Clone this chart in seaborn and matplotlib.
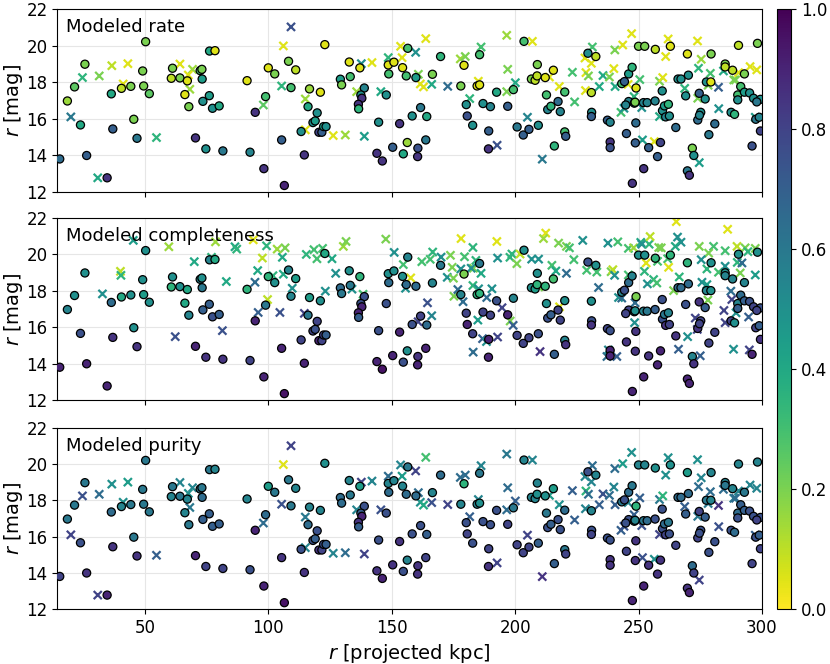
import matplotlib
matplotlib.use('Agg')
import matplotlib.pyplot as plt
import numpy as np
import pandas as pd
import seaborn as sns

# satellites (circles): projected distance, r mag, and model value in each panel
sat_r = [15.5, 18.6, 21.5, 25.7, 23.9, 26.4, 34.7, 36.4, 37.0, 40.5, 44.3, 45.5, 46.8, 49.1, 49.5, 50.3, 51.8,
         60.7, 61.2, 64.2, 66.2, 67.2, 67.8, 72.4, 73.1, 73.2, 73.5, 74.7, 76.1, 76.2, 78.4, 77.4, 80.1, 70.5,
         81.6, 91.4, 92.6, 94.7, 98.2, 98.9, 100.0, 102.6, 105.4, 106.5,
         108.2, 109.2, 111.1, 114.6, 113.3, 116.1, 116.7, 118.1, 119.0, 119.8, 120.5, 121.7, 122.4, 123.4,
         121.1, 122.9, 129.2, 129.7, 132.8, 133.2, 137.1, 138.9, 137.5, 137.9, 136.5, 136.6, 144.7, 144.0,
         146.2, 147.8, 148.6, 150.9, 148.8, 150.4, 153.2, 154.4, 154.7, 155.9, 156.5, 156.3, 158.3, 159.8,
         160.6, 160.5, 161.7, 164.2, 163.8, 166.5, 169.8, 178.0, 179.3, 180.2, 180.6, 182.8, 184.6, 185.6,
         185.6, 187.0, 189.3, 189.2, 190.0, 192.5, 197.0,
         199.3, 203.6, 200.8, 203.3, 205.6, 206.6, 208.1, 208.9, 209.0, 209.4, 212.2, 215.5, 212.7, 213.2,
         214.5, 217.4, 218.3, 220.1, 220.1, 220.5, 215.9, 229.5, 232.7, 230.9, 231.0, 230.9, 237.4, 238.5,
         238.5, 238.5, 243.2, 244.3, 246.0, 247.4, 245.1, 246.0, 244.8, 248.3, 249.0, 248.6, 248.9, 248.7,
         247.5, 250.0, 252.5, 252.1, 252.0, 253.5, 254.1, 256.7, 256.8, 257.7, 258.9, 259.6, 259.7, 260.5,
         262.1, 261.0, 262.5, 262.9, 265.1, 266.0, 267.2, 269.1, 270.2, 269.8, 271.8, 272.4, 269.8, 270.6,
         274.6, 275.2, 274.0, 274.7, 277.0, 277.5, 279.3, 279.4, 278.5, 280.9, 285.1, 285.1, 288.1, 287.5,
         288.9, 290.5, 298.2, 292.9, 291.4, 290.2, 292.9, 295.0, 296.6, 299.4, 297.9, 290.2, 297.5, 298.9,
         299.4, 296.0]
sat_mag = [13.8, 16.97, 17.74, 18.98, 15.66, 13.99, 12.77, 17.36, 15.44, 17.66, 17.77, 15.97, 14.93, 18.61, 17.79,
           20.21, 17.37, 18.21, 18.76, 18.23, 17.32, 18.07, 16.66, 18.63, 18.70, 18.17, 16.95, 14.35, 17.26,
           19.70, 19.72, 16.57, 16.70, 14.95, 14.24, 18.08, 14.17, 16.35, 13.27, 17.21, 18.78, 18.45, 14.84, 12.35,
           19.14, 17.70, 18.67, 14.02, 15.30, 16.66, 17.63, 15.79, 15.88, 16.32, 15.26, 15.26, 15.57, 15.57,
           17.45, 20.05, 18.16, 17.85, 19.10, 18.30, 18.78, 17.68, 17.30, 17.12, 16.79, 16.54, 15.81, 14.11,
           13.69, 17.30, 18.94, 19.09, 18.45, 14.44, 15.73, 18.79, 14.08, 18.34, 19.85, 14.70, 16.15, 18.25,
           14.39, 13.93, 16.61, 16.12, 14.84, 18.43, 19.40, 17.79, 18.92, 16.77, 16.15, 15.64, 17.79, 17.85,
           19.50, 16.83, 15.33, 14.35, 16.66, 17.45, 16.68,
           17.59, 20.23, 15.55, 15.11, 15.42, 18.17, 18.10, 18.34, 18.96, 15.64, 18.25, 18.65, 17.30, 16.50,
           16.68, 16.94, 16.39, 17.46, 15.28, 15.04, 14.51, 19.58, 19.40, 17.43, 16.35, 16.12, 15.92, 15.81,
           14.73, 14.42, 17.92, 18.03, 18.45, 18.81, 15.19, 16.94, 16.75, 16.85, 17.68, 16.90, 15.77, 14.68,
           12.47, 19.96, 19.96, 13.27, 16.88, 16.88, 14.42, 16.97, 19.79, 13.93, 14.70, 17.52, 16.44, 16.70,
           16.79, 16.10, 16.15, 19.96, 15.52, 18.17, 18.17, 17.25, 18.38, 19.54, 14.39, 13.99, 13.15, 12.91,
           17.39, 16.35, 15.93, 16.19, 17.08, 18.01, 18.01, 19.54, 15.13, 15.72, 18.99, 18.83, 18.65, 16.35,
           16.24, 20.01, 20.12, 18.45, 17.76, 17.30, 17.45, 17.41, 17.12, 17.06, 16.92, 17.03, 15.97, 16.08,
           15.33, 14.51]
sat_rate = [0.65, 0.15, 0.25, 0.2, 0.4, 0.7, 0.85, 0.4, 0.7, 0.1, 0.2, 0.2, 0.6, 0.2, 0.2, 0.2, 0.25,
            0.1, 0.2, 0.2, 0.05, 0.05, 0.2, 0.3, 0.2, 0.45, 0.5, 0.5, 0.45, 0.4, 0.05, 0.5, 0.4, 0.85,
            0.6, 0.05, 0.55, 0.85, 0.85, 0.3, 0.05, 0.2, 0.7, 0.9,
            0.2, 0.3, 0.1, 0.85, 0.5, 0.4, 0.15, 0.5, 0.45, 0.5, 0.8, 0.7, 0.45, 0.5,
            0.05, 0.05, 0.45, 0.2, 0.05, 0.3, 0.05, 0.55, 0.5, 0.85, 0.85, 0.35, 0.5, 0.85,
            0.85, 0.5, 0.05, 0.05, 0.3, 0.7, 0.85, 0.05, 0.4, 0.3, 0.3, 0.15, 0.5, 0.45,
            0.75, 0.85, 0.6, 0.4, 0.6, 0.2, 0.35, 0.2, 0.05, 0.5, 0.75, 0.5, 0.05, 0.05,
            0.3, 0.5, 0.7, 0.85, 0.55, 0.4, 0.7,
            0.3, 0.3, 0.6, 0.7, 0.7, 0.2, 0.1, 0.1, 0.2, 0.5, 0.05, 0.05, 0.3, 0.55,
            0.35, 0.65, 0.55, 0.3, 0.3, 0.7, 0.35, 0.5, 0.1, 0.1, 0.5, 0.7, 0.7, 0.55,
            0.85, 0.75, 0.3, 0.7, 0.45, 0.35, 0.7, 0.55, 0.55, 0.5, 0.05, 0.2, 0.65, 0.7,
            0.85, 0.2, 0.2, 0.85, 0.55, 0.55, 0.7, 0.55, 0.1, 0.7, 0.8, 0.5, 0.5, 0.45,
            0.35, 0.55, 0.5, 0.05, 0.65, 0.5, 0.5, 0.5, 0.5, 0.05, 0.2, 0.5, 0.6, 0.85,
            0.7, 0.5, 0.65, 0.55, 0.5, 0.5, 0.05, 0.2, 0.6, 0.65, 0.2, 0.1, 0.1, 0.5,
            0.35, 0.1, 0.2, 0.2, 0.3, 0.3, 0.45, 0.5, 0.5, 0.5, 0.6, 0.5, 0.6, 0.55,
            0.8, 0.75]
sat_comp = [0.9, 0.55, 0.5, 0.5, 0.75, 0.9, 0.9, 0.65, 0.85, 0.4, 0.5, 0.5, 0.85, 0.5, 0.45, 0.5, 0.5,
            0.35, 0.5, 0.5, 0.4, 0.4, 0.55, 0.55, 0.5, 0.6, 0.7, 0.85, 0.7, 0.55, 0.4, 0.75, 0.7, 0.9,
            0.85, 0.35, 0.8, 0.9, 0.9, 0.6, 0.35, 0.5, 0.9, 0.95,
            0.55, 0.55, 0.45, 0.9, 0.8, 0.6, 0.45, 0.8, 0.75, 0.8, 0.9, 0.8, 0.8, 0.7,
            0.5, 0.4, 0.65, 0.6, 0.5, 0.6, 0.35, 0.75, 0.75, 0.9, 0.9, 0.7, 0.75, 0.9,
            0.95, 0.75, 0.5, 0.5, 0.65, 0.9, 0.9, 0.5, 0.75, 0.65, 0.55, 0.5, 0.75, 0.65,
            0.85, 0.9, 0.8, 0.65, 0.9, 0.55, 0.6, 0.55, 0.2, 0.8, 0.9, 0.8, 0.35, 0.35,
            0.6, 0.8, 0.9, 0.9, 0.8, 0.75, 0.9,
            0.55, 0.5, 0.8, 0.8, 0.8, 0.5, 0.45, 0.35, 0.5, 0.75, 0.35, 0.3, 0.5, 0.75,
            0.7, 0.8, 0.8, 0.5, 0.55, 0.85, 0.7, 0.75, 0.5, 0.5, 0.75, 0.85, 0.8, 0.75,
            0.9, 0.9, 0.55, 0.75, 0.65, 0.55, 0.85, 0.8, 0.8, 0.5, 0.2, 0.5, 0.85, 0.85,
            0.9, 0.5, 0.5, 0.9, 0.55, 0.6, 0.85, 0.7, 0.35, 0.9, 0.9, 0.75, 0.75, 0.6,
            0.55, 0.85, 0.8, 0.35, 0.85, 0.65, 0.65, 0.75, 0.65, 0.35, 0.55, 0.85, 0.9, 0.9,
            0.85, 0.8, 0.85, 0.8, 0.7, 0.55, 0.5, 0.5, 0.8, 0.8, 0.5, 0.55, 0.55, 0.8,
            0.5, 0.5, 0.5, 0.55, 0.65, 0.55, 0.7, 0.75, 0.8, 0.75, 0.8, 0.7, 0.8, 0.7,
            0.85, 0.9]
sat_pur = [0.8, 0.6, 0.6, 0.6, 0.75, 0.85, 0.9, 0.65, 0.85, 0.55, 0.6, 0.6, 0.85, 0.6, 0.6, 0.6, 0.6,
           0.55, 0.6, 0.6, 0.55, 0.55, 0.6, 0.6, 0.6, 0.65, 0.7, 0.8, 0.7, 0.6, 0.55, 0.7, 0.7, 0.9,
           0.8, 0.55, 0.75, 0.9, 0.9, 0.65, 0.45, 0.6, 0.85, 0.95,
           0.6, 0.6, 0.55, 0.85, 0.75, 0.65, 0.55, 0.75, 0.7, 0.75, 0.85, 0.8, 0.75, 0.7,
           0.55, 0.5, 0.65, 0.65, 0.55, 0.6, 0.45, 0.75, 0.7, 0.9, 0.85, 0.7, 0.75, 0.85,
           0.9, 0.75, 0.55, 0.55, 0.65, 0.85, 0.85, 0.55, 0.75, 0.65, 0.6, 0.55, 0.75, 0.65,
           0.85, 0.85, 0.75, 0.7, 0.8, 0.55, 0.65, 0.55, 0.35, 0.75, 0.8, 0.75, 0.55, 0.5,
           0.6, 0.75, 0.8, 0.85, 0.75, 0.75, 0.8,
           0.6, 0.55, 0.8, 0.8, 0.8, 0.55, 0.55, 0.5, 0.55, 0.7, 0.5, 0.45, 0.6, 0.75,
           0.7, 0.75, 0.75, 0.65, 0.6, 0.8, 0.7, 0.75, 0.55, 0.55, 0.75, 0.8, 0.75, 0.75,
           0.85, 0.85, 0.6, 0.75, 0.65, 0.6, 0.8, 0.75, 0.75, 0.55, 0.35, 0.55, 0.85, 0.85,
           0.9, 0.55, 0.55, 0.9, 0.6, 0.65, 0.85, 0.75, 0.5, 0.85, 0.85, 0.75, 0.75, 0.65,
           0.6, 0.8, 0.75, 0.5, 0.8, 0.65, 0.65, 0.7, 0.65, 0.45, 0.65, 0.8, 0.85, 0.9,
           0.8, 0.75, 0.8, 0.75, 0.7, 0.6, 0.55, 0.55, 0.75, 0.75, 0.55, 0.6, 0.55, 0.75,
           0.65, 0.55, 0.55, 0.6, 0.7, 0.65, 0.7, 0.75, 0.75, 0.75, 0.8, 0.75, 0.75, 0.7,
           0.8, 0.8]

# candidates (crosses) shown in the rate and purity panels
cand_r = [20.0, 24.7, 31.5, 36.6, 43.1, 41.2, 30.9, 54.7, 64.2, 69.3, 67.6, 68.2, 98.0, 105.4, 106.1,
          109.2, 115.0, 115.0, 126.3, 131.2, 135.8, 137.7, 142.0, 138.9, 145.6, 148.6, 153.6, 154.2, 159.7,
          163.8, 160.8, 161.6, 162.9, 166.2, 172.7, 177.8, 179.8, 181.6, 185.1, 186.2, 192.7, 196.6, 197.0,
          196.6, 207.0, 200.1, 205.0, 211.0, 213.9, 217.9, 223.2, 224.1, 228.3, 230.9, 231.3, 228.7, 229.7,
          228.5, 234.1, 235.6, 238.2, 240.0, 240.4, 243.6, 240.5, 242.9, 244.1, 245.8, 247.2, 248.2, 250.5,
          251.3, 251.6, 256.4, 258.5, 259.8, 258.5, 261.0, 262.0, 268.7, 273.9, 274.3, 275.4, 274.0, 274.6,
          279.1, 278.2, 282.4, 282.5, 284.4, 288.6, 295.2, 297.9, 289.3, 290.5, 297.3]
cand_mag = [16.10, 18.25, 18.34, 18.90, 19.01, 17.90, 12.77, 14.97, 18.99, 18.70, 18.39, 17.61, 16.75, 17.79,
            19.98, 21.02, 17.08, 15.39, 15.08, 15.11, 17.48, 19.01, 19.07, 15.04, 17.48, 19.34, 19.96, 19.34,
            19.63, 20.38, 18.43, 17.90, 17.74, 17.88, 17.77, 19.27, 19.40, 17.10, 18.05, 19.92, 14.55, 20.56,
            18.70, 17.48, 20.23, 17.97, 16.08, 13.79, 18.28, 17.76, 18.54, 16.92, 19.32, 19.03, 19.92, 18.52,
            18.34, 17.54, 17.76, 18.36, 18.28, 18.74, 19.76, 20.03, 17.76, 16.35, 16.57, 17.88, 20.65, 17.21,
            18.14, 16.61, 14.84, 14.75, 18.05, 18.25, 16.12, 19.40, 20.36, 17.66, 20.25, 18.76, 19.25, 17.12,
            13.60, 18.48, 17.83, 17.72, 16.55, 18.61, 18.12, 18.85, 18.67, 18.12, 18.52, 16.08]
cand_rate = [0.6, 0.35, 0.2, 0.1, 0.05, 0.05, 0.4, 0.35, 0.05, 0.15, 0.05, 0.15, 0.25, 0.35, 0.05,
             0.75, 0.15, 0.05, 0.05, 0.15, 0.15, 0.5, 0.05, 0.45, 0.4, 0.35, 0.05, 0.05, 0.5,
             0.05, 0.2, 0.05, 0.05, 0.4, 0.65, 0.15, 0.2, 0.35, 0.05, 0.3, 0.75, 0.15, 0.2,
             0.2, 0.05, 0.4, 0.55, 0.6, 0.05, 0.05, 0.3, 0.3, 0.05, 0.05, 0.3, 0.05, 0.2,
             0.05, 0.4, 0.4, 0.2, 0.05, 0.2, 0.05, 0.4, 0.3, 0.5, 0.05, 0.05, 0.35, 0.3,
             0.5, 0.45, 0.05, 0.2, 0.05, 0.4, 0.05, 0.05, 0.35, 0.05, 0.35, 0.15, 0.2, 0.45,
             0.3, 0.2, 0.7, 0.5, 0.4, 0.2, 0.05, 0.05, 0.2, 0.05, 0.45]
cand_pur = [0.8, 0.75, 0.65, 0.5, 0.45, 0.5, 0.8, 0.7, 0.55, 0.55, 0.5, 0.6, 0.65, 0.75, 0.05,
            0.8, 0.6, 0.55, 0.55, 0.65, 0.55, 0.8, 0.55, 0.8, 0.75, 0.65, 0.55, 0.45, 0.8,
            0.3, 0.65, 0.5, 0.4, 0.75, 0.8, 0.65, 0.65, 0.7, 0.55, 0.55, 0.8, 0.6, 0.65,
            0.65, 0.55, 0.7, 0.8, 0.85, 0.45, 0.5, 0.7, 0.7, 0.55, 0.55, 0.65, 0.35, 0.65,
            0.55, 0.7, 0.75, 0.65, 0.55, 0.65, 0.45, 0.7, 0.7, 0.75, 0.55, 0.5, 0.7, 0.7,
            0.75, 0.75, 0.5, 0.6, 0.35, 0.8, 0.5, 0.5, 0.7, 0.5, 0.65, 0.55, 0.6, 0.8,
            0.65, 0.6, 0.85, 0.75, 0.65, 0.6, 0.55, 0.55, 0.65, 0.55, 0.7]

# candidates (crosses) shown in the completeness panel
comp_r = [45.3, 59.7, 78.6, 77.0, 86.5, 87.2, 93.9, 99.3, 103.6, 106.8, 97.6, 105.7, 70.0, 40.1, 40.3,
          32.8, 83.0, 95.7, 94.6, 101.9, 106.1, 109.7, 99.7, 95.9, 104.7, 81.4, 62.3,
          114.6, 115.4, 118.5, 119.7, 122.0, 125.8, 127.3, 123.1, 130.4, 131.5, 133.9, 138.4, 147.6, 151.0,
          154.7, 157.7, 155.6, 162.2, 165.6, 166.6, 170.0, 172.5, 173.8, 174.5, 175.0, 175.2, 176.8, 178.9,
          178.1, 178.0, 179.5, 182.9, 184.1, 183.1, 182.2, 186.2, 182.9, 185.2, 188.5, 190.6, 184.9, 186.8,
          188.4, 192.9, 183.0, 194.7, 198.0, 199.2, 192.6, 192.9, 197.9, 198.7, 200.7, 202.0, 164.5, 166.2,
          160.7,
          212.4, 211.5, 217.6, 220.8, 222.0, 227.4, 237.6, 241.6, 245.9, 248.0, 250.9, 251.3, 254.3, 254.7,
          258.2, 259.2, 265.3, 265.8, 267.2, 264.9, 274.6, 280.4, 278.4, 286.1, 285.1, 289.9, 293.2, 297.3,
          294.3, 206.7, 209.5, 214.9, 223.8, 216.5, 220.8, 229.0, 233.1, 238.9, 239.6, 240.3, 233.8, 241.9,
          243.2, 245.9, 248.6, 248.4, 252.4, 253.1, 253.6, 256.1, 257.4, 257.7, 261.8, 262.2, 264.2, 266.5,
          275.4, 275.7, 277.7, 277.7, 278.1, 282.4, 285.1, 291.2, 297.3, 290.0, 291.9, 287.4, 287.8, 289.5,
          294.6, 284.6, 285.1, 273.0, 273.8, 269.9, 266.2, 275.0, 288.5, 294.9, 210.1, 237.2, 241.2, 237.8,
          218.0, 209.5]
comp_mag = [20.77, 20.42, 20.69, 19.84, 20.42, 20.29, 20.80, 20.47, 20.29, 20.36, 19.80, 19.84, 19.60, 19.07,
            18.85, 17.83, 18.51, 19.11, 18.47, 18.83, 18.91, 18.14, 17.52, 16.81, 16.81, 15.81, 15.48,
            16.76, 20.00, 20.26, 19.76, 20.33, 19.76, 18.96, 17.98, 20.44, 20.71, 18.09, 17.81, 20.84, 20.11,
            19.44, 18.71, 18.14, 19.60, 19.73, 20.13, 19.85, 18.74, 19.95, 19.29, 18.69, 17.70, 18.07, 17.40,
            20.87, 19.20, 19.87, 20.38, 19.67, 19.24, 19.24, 18.96, 18.29, 18.11, 17.63, 18.11, 16.39, 15.37,
            15.21, 15.46, 14.63, 17.07, 16.34, 16.10, 20.71, 19.80, 19.84, 20.02, 19.49, 20.02, 17.34, 16.63,
            16.30,
            21.17, 20.87, 20.62, 20.44, 20.36, 20.77, 20.62, 20.69, 20.33, 20.36, 20.66, 20.56, 20.56, 20.98,
            20.38, 20.36, 21.80, 20.95, 20.67, 20.44, 20.44, 20.44, 20.07, 21.38, 20.20, 20.44, 20.36, 20.33,
            20.15, 19.74, 19.74, 19.40, 19.71, 19.09, 18.96, 19.13, 19.03, 19.05, 19.16, 18.85, 18.18, 17.63,
            17.60, 18.87, 17.34, 16.25, 19.07, 19.53, 18.38, 18.62, 18.43, 19.62, 19.76, 19.29, 18.01, 18.76,
            19.71, 18.47, 19.20, 18.34, 17.49, 19.02, 19.35, 18.98, 18.87, 19.56, 19.53, 17.98, 17.52, 16.79,
            16.56, 16.92, 16.25, 16.50, 15.88, 15.48, 14.79, 14.43, 14.79, 14.75, 14.66, 14.39, 14.39, 14.75,
            17.12, 18.21]
comp_val = [0.45, 0.15, 0.15, 0.35, 0.4, 0.35, 0.05, 0.35, 0.15, 0.2, 0.1, 0.4, 0.4, 0.1, 0.35,
            0.5, 0.4, 0.4, 0.65, 0.35, 0.4, 0.5, 0.1, 0.7, 0.75, 0.75, 0.75,
            0.8, 0.35, 0.3, 0.3, 0.3, 0.4, 0.5, 0.5, 0.15, 0.2, 0.5, 0.3, 0.2, 0.5,
            0.3, 0.05, 0.5, 0.3, 0.3, 0.35, 0.5, 0.5, 0.2, 0.2, 0.2, 0.2, 0.65, 0.65,
            0.05, 0.5, 0.3, 0.35, 0.35, 0.2, 0.5, 0.4, 0.35, 0.5, 0.65, 0.5, 0.45, 0.7,
            0.5, 0.8, 0.65, 0.8, 0.2, 0.7, 0.05, 0.5, 0.35, 0.35, 0.2, 0.1, 0.75, 0.55,
            0.8,
            0.05, 0.15, 0.2, 0.2, 0.3, 0.5, 0.5, 0.3, 0.3, 0.15, 0.4, 0.5, 0.35, 0.1,
            0.2, 0.2, 0.05, 0.5, 0.5, 0.4, 0.2, 0.3, 0.2, 0.05, 0.3, 0.1, 0.2, 0.2,
            0.35, 0.5, 0.5, 0.3, 0.3, 0.4, 0.65, 0.3, 0.3, 0.2, 0.1, 0.5, 0.65, 0.5,
            0.65, 0.3, 0.65, 0.5, 0.35, 0.05, 0.5, 0.35, 0.3, 0.3, 0.3, 0.05, 0.2, 0.35,
            0.5, 0.5, 0.35, 0.45, 0.2, 0.3, 0.5, 0.2, 0.45, 0.35, 0.65, 0.65, 0.8, 0.5,
            0.7, 0.8, 0.8, 0.8, 0.8, 0.5, 0.7, 0.7, 0.5, 0.8, 0.85, 0.65, 0.7, 0.55,
            0.05, 0.2]

panel_titles = ['Modeled rate', 'Modeled completeness', 'Modeled purity']

sats = pd.DataFrame({'r': sat_r, 'mag': sat_mag, 'rate': sat_rate, 'comp': sat_comp, 'pur': sat_pur})
cands = pd.DataFrame({'r': cand_r, 'mag': cand_mag, 'rate': cand_rate, 'pur': cand_pur})
comp_cands = pd.DataFrame({'r': comp_r, 'mag': comp_mag, 'comp': comp_val})

cmap = 'viridis_r'

fig = plt.figure(figsize=(8.3, 6.64), dpi=100)
ax1 = fig.add_axes([0.069, 0.711, 0.849, 0.2755])
ax2 = fig.add_axes([0.069, 0.3976, 0.849, 0.2741], sharex=ax1)
ax3 = fig.add_axes([0.069, 0.0828, 0.849, 0.2726], sharex=ax1)
cax = fig.add_axes([0.936, 0.0828, 0.017, 0.9036])

panels = [
    (ax1, cands, 'rate', sats, 'rate'),
    (ax2, comp_cands, 'comp', sats, 'comp'),
    (ax3, cands, 'pur', sats, 'pur'),
]

for (ax, cx, cx_col, sx, sx_col), title in zip(panels, panel_titles):
    ax.grid(True, color='#e6e6e6', linewidth=0.8, zorder=0)
    ax.set_axisbelow(True)
    # crosses first, circles on top
    sns.scatterplot(data=cx, x='r', y='mag', hue=cx_col, palette=cmap, hue_norm=(0, 1),
                    marker='x', s=34, linewidth=1.6, legend=False, ax=ax, zorder=2)
    sns.scatterplot(data=sx, x='r', y='mag', hue=sx_col, palette=cmap, hue_norm=(0, 1),
                    marker='o', s=34, edgecolor='black', linewidth=0.9, legend=False, ax=ax, zorder=3)
    ax.set_ylim(12, 22)
    ax.set_yticks([12, 14, 16, 18, 20, 22])
    ax.set_ylabel('$r$ [mag]', fontsize=14, labelpad=1)
    ax.set_xlabel('')
    ax.tick_params(labelsize=12)
    ax.text(0.013, 0.95, title, transform=ax.transAxes, ha='left', va='top', fontsize=13)

ax1.set_xlim(14.5, 300)
ax1.set_xticks([50, 100, 150, 200, 250, 300])
ax1.tick_params(labelbottom=False)
ax2.tick_params(labelbottom=False)
ax3.set_xlabel('$r$ [projected kpc]', fontsize=14)

sm = plt.cm.ScalarMappable(cmap=cmap, norm=plt.Normalize(0, 1))
cb = fig.colorbar(sm, cax=cax)
cb.set_ticks([0.0, 0.2, 0.4, 0.6, 0.8, 1.0])
cb.ax.tick_params(labelsize=12)

fig.savefig('out.png', dpi=100)
